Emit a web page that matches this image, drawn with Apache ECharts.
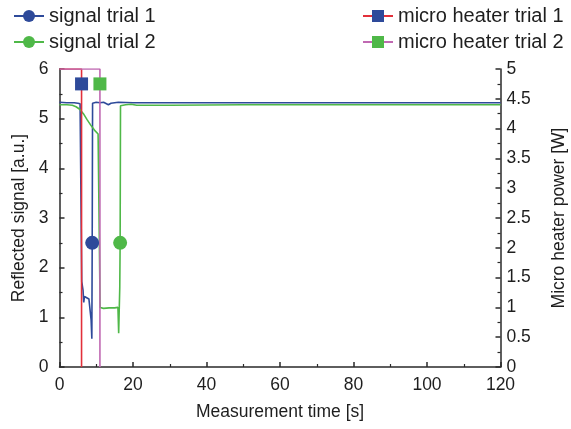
<!DOCTYPE html>
<html>
<head>
<meta charset="utf-8">
<script src="https://cdn.jsdelivr.net/npm/echarts@6/dist/echarts.min.js"></script>
<style>
  html, body { margin: 0; padding: 0; background: #fff; }
  #chart { width: 571px; height: 429px; }
</style>
</head>
<body>
<div id="chart"></div>
<script>
// Reflected signal [a.u.] over time [s], two trials
const signal1 = [
  [0, 5.33], [2, 5.32], [4, 5.32], [5, 5.31], [5.6, 5.30], [6.0, 5.29],
  [6.05, 1.72], [6.4, 1.55], [6.6, 1.30], [6.8, 1.42], [7.1, 1.38], [8.0, 1.37],
  [8.4, 1.35], [8.6, 0.95], [8.8, 0.57], [8.9, 2.5], [9.0, 5.31], [10, 5.33],
  [11, 5.32], [12, 5.33], [13.3, 5.28], [14, 5.31], [16, 5.33], [20, 5.32],
  [40, 5.32], [60, 5.32], [80, 5.32], [100, 5.32], [120, 5.32]
];
const signal2 = [
  [0, 5.28], [2, 5.28], [3.5, 5.27], [4.5, 5.24], [5.5, 5.19], [6.5, 5.10],
  [7.5, 4.98], [8.5, 4.87], [9.5, 4.77], [10.5, 4.69], [11.0, 4.65],
  [11.05, 1.20], [12, 1.18], [13.5, 1.19], [15.0, 1.19], [15.9, 1.20],
  [16.1, 0.68], [16.4, 1.6], [16.5, 2.5], [16.6, 5.26], [18, 5.28],
  [19.5, 5.29], [21, 5.27], [30, 5.27], [50, 5.28], [70, 5.28], [90, 5.28],
  [120, 5.28]
];
// Micro heater power [W]
const heater1 = [[0, 5], [6.0, 5], [6.0, 4.75], [6.0, 0]];
const heater2 = [[0, 5], [11.0, 5], [11.0, 4.75], [11.0, 0]];
// index of the point in each series that carries its marker
const signal1Marker = 15;
const signal2Marker = 18;
const heater1Marker = 2;
const heater2Marker = 2;

const xTicks = { min: 0, max: 120, interval: 20 };
const leftTicks = { min: 0, max: 6, interval: 1 };
const rightTicks = { min: 0, max: 5, interval: 0.5 };

const FONT = 'Liberation Sans';
const TEXT = '#1e1e1e';
const AXIS = '#2a2a2a';
const TICK_FS = 17.5;
const LEGEND_FS = 20;

function markerSize(idx, size) {
  return function (val, params) { return params.dataIndex === idx ? size : 0; };
}

function axisBase(extra) {
  return Object.assign({
    type: 'value',
    nameLocation: 'middle',
    nameTextStyle: { fontFamily: FONT, fontSize: TICK_FS, color: TEXT },
    axisLine: { show: true, onZero: false, lineStyle: { color: AXIS, width: 1.5 } },
    axisTick: { show: true, inside: true, length: 5, lineStyle: { color: AXIS, width: 1.5 } },
    minorTick: { show: true, splitNumber: 2, length: 3, lineStyle: { color: AXIS, width: 1.2 } },
    axisLabel: { fontFamily: FONT, fontSize: TICK_FS, color: TEXT },
    splitLine: { show: false }
  }, extra);
}

const legendText = { fontFamily: FONT, fontSize: LEGEND_FS, color: TEXT };

const chart = echarts.init(document.getElementById('chart'), null, { renderer: 'canvas' });
chart.setOption({
  animation: false,
  backgroundColor: '#fff',
  grid: {
    left: 59.5, right: 70.5, top: 69, bottom: 62,
    containLabel: false, outerBoundsMode: 'none'
  },
  legend: [
    {
      data: ['signal trial 1', 'signal trial 2'],
      orient: 'vertical', left: 8, top: 1, itemGap: 6,
      itemWidth: 30, itemHeight: 15,
      textStyle: legendText
    },
    {
      data: ['micro heater trial 1', 'micro heater trial 2'],
      orient: 'vertical', left: 357, top: 1, itemGap: 6,
      itemWidth: 30, itemHeight: 15,
      textStyle: legendText
    }
  ],
  xAxis: axisBase({
    min: xTicks.min, max: xTicks.max, interval: xTicks.interval,
    name: 'Measurement time [s]', nameGap: 36,
    axisLabel: { fontFamily: FONT, fontSize: TICK_FS, color: TEXT, margin: 9 }
  }),
  yAxis: [
    axisBase({
      position: 'left',
      min: leftTicks.min, max: leftTicks.max, interval: leftTicks.interval,
      name: 'Reflected signal [a.u.]', nameGap: 31, nameRotate: 90,
      axisLabel: { fontFamily: FONT, fontSize: TICK_FS, color: TEXT, margin: 11 }
    }),
    axisBase({
      position: 'right',
      min: rightTicks.min, max: rightTicks.max, interval: rightTicks.interval,
      name: 'Micro heater power [W]', nameGap: 50, nameRotate: 90,
      axisLabel: { fontFamily: FONT, fontSize: TICK_FS, color: TEXT, margin: 6 }
    })
  ],
  series: [
    {
      name: 'signal trial 1', type: 'line', yAxisIndex: 0, data: signal1,
      symbol: 'circle', showSymbol: true, showAllSymbol: true,
      symbolSize: markerSize(signal1Marker, 14),
      itemStyle: { color: '#2e4a9a' },
      lineStyle: { color: '#2e4a9a', width: 1.6 },
      z: 2
    },
    {
      name: 'signal trial 2', type: 'line', yAxisIndex: 0, data: signal2,
      symbol: 'circle', showSymbol: true, showAllSymbol: true,
      symbolSize: markerSize(signal2Marker, 14),
      itemStyle: { color: '#4fb848' },
      lineStyle: { color: '#4fb848', width: 1.6 },
      z: 2
    },
    {
      name: 'micro heater trial 1', type: 'line', yAxisIndex: 1, data: heater1,
      symbol: 'rect', showSymbol: true, showAllSymbol: true,
      symbolSize: markerSize(heater1Marker, 13),
      itemStyle: { color: '#2e4a9a' },
      lineStyle: { color: '#e2303a', width: 1.6 },
      z: 3
    },
    {
      name: 'micro heater trial 2', type: 'line', yAxisIndex: 1, data: heater2,
      symbol: 'rect', showSymbol: true, showAllSymbol: true,
      symbolSize: markerSize(heater2Marker, 13),
      itemStyle: { color: '#4fb848' },
      lineStyle: { color: '#c069b2', width: 1.6 },
      z: 3
    }
  ]
});
</script>
</body>
</html>
